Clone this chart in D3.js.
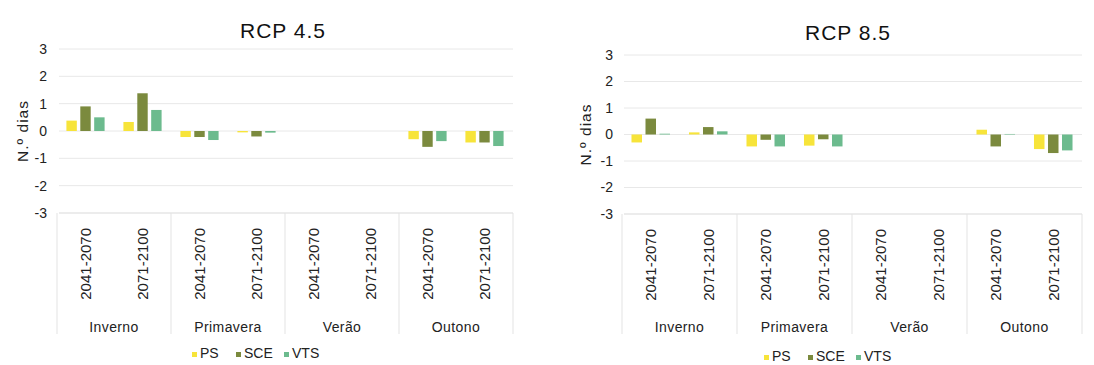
<!DOCTYPE html>
<html>
<head>
<meta charset="utf-8">
<script src="https://cdn.jsdelivr.net/npm/d3@7"></script>
<style>
  html, body { margin: 0; padding: 0; background: #fff; }
  svg { display: block; font-family: "Liberation Sans", Arial, sans-serif; }
</style>
</head>
<body>
<svg id="chart" width="1094" height="365"></svg>
<script>
// ---- data ----
const seasons = ["Inverno", "Primavera", "Verão", "Outono"];
const periods = ["2041-2070", "2071-2100"];
const seriesNames = ["PS", "SCE", "VTS"];
const yTicks = [3, 2, 1, 0, -1, -2, -3];
const titles = ["RCP 4.5", "RCP 8.5"];
const yAxisTitle = "N.º dias";

// values per (season, period): Inverno41, Inverno71, Primavera41, Primavera71, Verão41, Verão71, Outono41, Outono71
const rcp45PS  = [0.38, 0.33, -0.22, -0.05, 0, 0, -0.30, -0.42];
const rcp45SCE = [0.90, 1.38, -0.22, -0.20, 0, 0, -0.58, -0.42];
const rcp45VTS = [0.50, 0.77, -0.33, -0.06, 0, 0, -0.37, -0.55];

const rcp85PS  = [-0.30, 0.08, -0.45, -0.42, 0, 0, 0.18, -0.55];
const rcp85SCE = [0.60, 0.28, -0.20, -0.18, 0, 0, -0.45, -0.70];
const rcp85VTS = [0.03, 0.12, -0.45, -0.45, 0, 0, 0.02, -0.60];

const colors = { PS: "#f7e43a", SCE: "#7b8a3e", VTS: "#6cbb8e" };

// ---- layout ----
const panels = [
  { title: titles[0], data: { PS: rcp45PS, SCE: rcp45SCE, VTS: rcp45VTS },
    x0: 57, x1: 513, yTop: 49, yBot: 213, titleX: 283, titleY: 38,
    tickX: 47, yTitleX: 23, catBottom: 334, seasonY: 332, legendY: 358, legendX: 200 },
  { title: titles[1], data: { PS: rcp85PS, SCE: rcp85SCE, VTS: rcp85VTS },
    x0: 622, x1: 1082, yTop: 55, yBot: 214, titleX: 848, titleY: 40,
    tickX: 613, yTitleX: 586, catBottom: 334, seasonY: 332, legendY: 361, legendX: 772 }
];

const svg = d3.select("#chart");

panels.forEach(p => {
  const g = svg.append("g");
  const cats = [];
  seasons.forEach(s => periods.forEach(pr => cats.push(s + "|" + pr)));

  const x = d3.scaleBand().domain(cats).range([p.x0, p.x1]).paddingInner(0).paddingOuter(0);
  const groupW = x.bandwidth() * 0.67;
  const xs = d3.scaleBand().domain(seriesNames).range([0, groupW]).paddingInner(0.25);
  const y = d3.scaleLinear().domain([-3, 3]).range([p.yBot, p.yTop]);

  // gridlines
  g.selectAll("line.grid").data(yTicks).join("line")
    .attr("x1", p.x0 + 2).attr("x2", p.x1)
    .attr("y1", d => y(d)).attr("y2", d => y(d))
    .attr("stroke", d => d === -3 ? "#d9d9d9" : "#e8e8e8").attr("stroke-width", 1);

  // y tick labels
  g.selectAll("text.ytick").data(yTicks).join("text")
    .attr("x", p.tickX).attr("y", d => y(d)).attr("dy", "0.35em")
    .attr("text-anchor", "end").attr("font-size", 14).attr("fill", "#222")
    .text(d => d);

  // y axis title
  g.append("text")
    .attr("transform", `translate(${p.yTitleX},${(p.yTop + p.yBot) / 2}) rotate(-90)`)
    .attr("text-anchor", "middle").attr("dy", "0.35em")
    .attr("font-size", 15.5).attr("fill", "#222").attr("letter-spacing", "1px")
    .text(yAxisTitle);

  // title
  g.append("text").attr("x", p.titleX).attr("y", p.titleY)
    .attr("text-anchor", "middle").attr("font-size", 21).attr("fill", "#111")
    .attr("letter-spacing", "1px")
    .text(p.title);

  // bars
  const barData = [];
  cats.forEach((c, i) => seriesNames.forEach(s => barData.push({ c, s, v: p.data[s][i] })));
  g.selectAll("rect.bar").data(barData).join("rect")
    .attr("x", d => x(d.c) + (x.bandwidth() - groupW) / 2 + xs(d.s))
    .attr("width", xs.bandwidth())
    .attr("y", d => Math.min(y(0), y(d.v)))
    .attr("height", d => Math.abs(y(d.v) - y(0)))
    .attr("fill", d => colors[d.s]);

  // season separators
  const seps = seasons.map(s => x(s + "|" + periods[0])).concat([p.x1]);
  g.selectAll("line.sep").data(seps).join("line")
    .attr("x1", d => d).attr("x2", d => d)
    .attr("y1", p.yBot).attr("y2", p.catBottom)
    .attr("stroke", "#e3e3e3").attr("stroke-width", 1);

  // period labels (rotated)
  g.selectAll("text.period").data(cats).join("text")
    .attr("transform", d => `translate(${x(d) + x.bandwidth() / 2},${p.yBot + 15}) rotate(-90)`)
    .attr("text-anchor", "end").attr("dy", "0.35em")
    .attr("font-size", 15).attr("fill", "#222")
    .text(d => d.split("|")[1]);

  // season labels
  g.selectAll("text.season").data(seasons).join("text")
    .attr("x", d => x(d + "|" + periods[0]) + x.bandwidth())
    .attr("y", p.seasonY)
    .attr("text-anchor", "middle").attr("font-size", 14).attr("fill", "#222")
    .attr("letter-spacing", "0.4px")
    .text(d => d);

  // legend
  const leg = g.append("g").attr("transform", `translate(${p.legendX},${p.legendY})`);
  const offs = [0, 44, 92];
  seriesNames.forEach((s, i) => {
    leg.append("rect").attr("x", offs[i] - 8).attr("y", -6).attr("width", 5).attr("height", 5)
      .attr("fill", colors[s]);
    leg.append("text").attr("x", offs[i]).attr("y", 0).attr("font-size", 14)
      .attr("fill", "#222").text(s);
  });
});
</script>
</body>
</html>
